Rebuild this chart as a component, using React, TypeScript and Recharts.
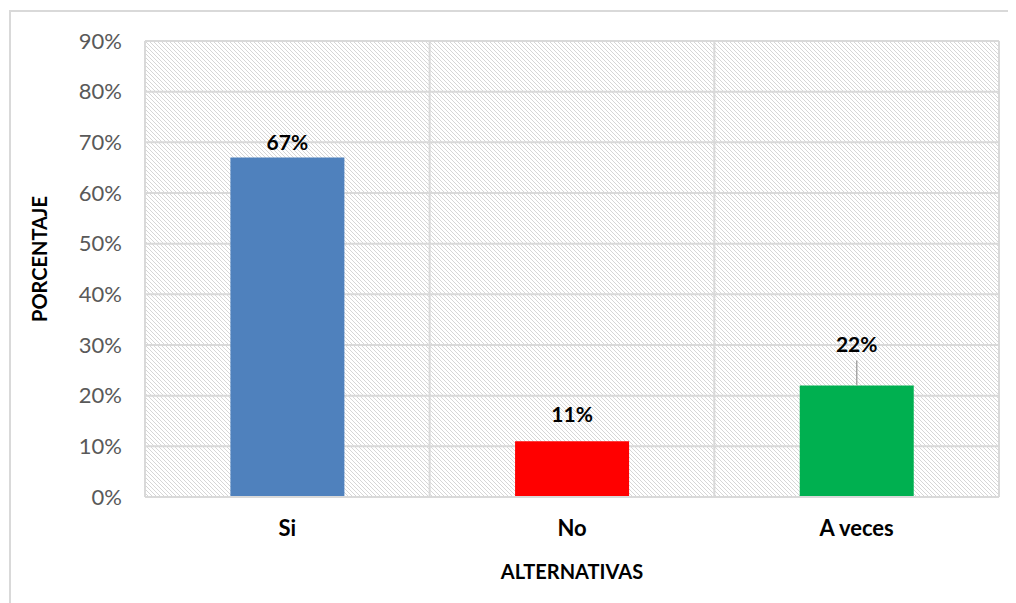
import { BarChart, Bar, XAxis, YAxis, CartesianGrid, Cell, LabelList } from 'recharts';

const categories = ['Si', 'No', 'A veces'];
const percentages = [67, 11, 22];
const barColors = ['#4F81BD', '#FF0000', '#00B050'];
const yTicks = [0, 10, 20, 30, 40, 50, 60, 70, 80, 90];

const data = categories.map((name, i) => ({ name, value: percentages[i], color: barColors[i] }));

const FONT = 'Lato, "Open Sans", sans-serif';

// label gap above each bar (px), the last one has a leader line
const labelGap = [15, 27, 41];

const renderBarLabel = (props: any) => {
  const { x, y, width, index, value } = props;
  const cx = x + width / 2;
  const gap = labelGap[index] ?? 15;
  const cy = y - gap;
  return (
    <g>
      {gap > 35 && <line x1={cx} x2={cx} y1={cy + 16} y2={y} stroke="#a6a6a6" strokeWidth={1.5} />}
      <text x={cx} y={cy} dy="0.36em" textAnchor="middle" fontSize={21} fontWeight={700} fill="#000" fontFamily={FONT}>
        {`${value}%`}
      </text>
    </g>
  );
};

const renderYTitle = (props: any) => {
  const { viewBox } = props;
  const x = viewBox.x + 32;
  const y = viewBox.y + viewBox.height / 2 - 10;
  return (
    <text x={x} y={y} transform={`rotate(-90 ${x} ${y})`} textAnchor="middle" dy="0.36em" fontSize={20} fontWeight={700} fill="#000" fontFamily={FONT}>
      PORCENTAJE
    </text>
  );
};

// vertical grid at the category band edges
const bandEdges = ({ offset }: any) =>
  [0, ...categories.map((_, i) => i + 1)].map((i) => offset.left + (offset.width * i) / categories.length);

export default function App() {
  return (
    <div style={{ position: 'relative', width: 1008, height: 595, overflow: 'hidden', background: '#fff' }}>
      <div
        style={{
          position: 'absolute',
          left: 1,
          top: 2,
          width: 1200,
          height: 800,
          borderLeft: '2px solid #d9d9d9',
          borderTop: '2px solid #d9d9d9',
        }}
      />
      <div style={{ position: 'absolute', left: 0, top: 0 }}>
        <BarChart width={1008} height={595} data={data} margin={{ top: 33, right: 17, bottom: 0, left: 0 }} barCategoryGap="30%">
          <defs>
            <pattern id="hatch" width="4" height="4" patternUnits="userSpaceOnUse">
              <rect width="4" height="4" fill="#fff" />
              <path d="M0,0 L4,4 M-1,3 L1,5 M3,-1 L5,1" stroke="#d6d6d6" strokeWidth={1} />
            </pattern>
          </defs>
          <CartesianGrid fill="url(#hatch)" stroke="#d9d9d9" strokeWidth={2} verticalCoordinatesGenerator={bandEdges} />
          <XAxis
            dataKey="name"
            height={106}
            axisLine={{ stroke: '#d9d9d9', strokeWidth: 2 }}
            tickLine={false}
            tickSize={0}
            tickMargin={23}
            tick={{ fontSize: 22, fontWeight: 700, fill: '#000', fontFamily: FONT }}
            label={{ value: 'ALTERNATIVAS', position: 'insideBottom', offset: 24, fontSize: 20, fontWeight: 700, fill: '#000', fontFamily: FONT }}
          />
          <YAxis
            width={137}
            domain={[0, 90]}
            ticks={yTicks}
            interval={0}
            axisLine={false}
            tickLine={false}
            tickSize={0}
            tickMargin={23}
            tickFormatter={(v: number) => `${v}%`}
            tick={{ fontSize: 22, fill: '#595959', fontFamily: FONT }}
            label={{ content: renderYTitle }}
          />
          <Bar dataKey="value" isAnimationActive={false}>
            {data.map((d, i) => (
              <Cell key={`c-${i}`} fill={d.color} />
            ))}
            <LabelList dataKey="value" content={renderBarLabel} />
          </Bar>
        </BarChart>
      </div>
    </div>
  );
}
